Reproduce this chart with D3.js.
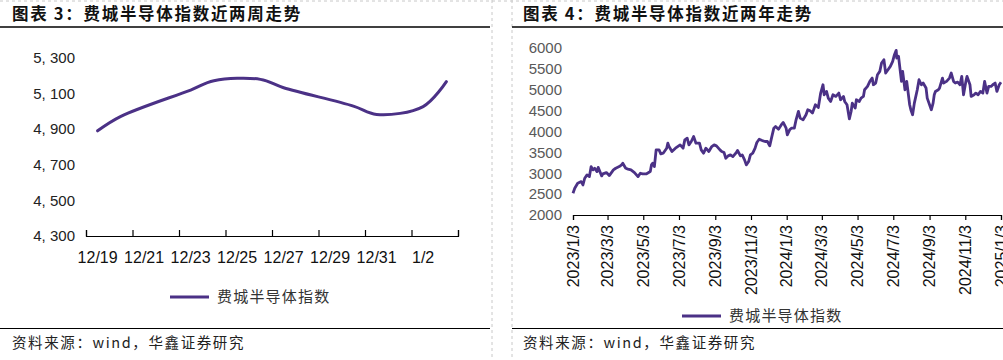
<!DOCTYPE html>
<html lang="zh">
<head>
<meta charset="utf-8">
<title>费城半导体指数</title>
<script src="https://d3js.org/d3.v7.min.js"></script>
<style>
body { margin: 0; background: #fff; }
svg { display: block; }
.num { font-family: "Liberation Sans", Arial, sans-serif; }
.cjk { font-family: "Noto Sans CJK SC", sans-serif; }
</style>
</head>
<body>
<svg id="paper" width="1003" height="360"></svg>
<script>
// 近两周（日度）
var weekDates = ["2024-12-19", "2024-12-20", "2024-12-23", "2024-12-24", "2024-12-26",
                 "2024-12-27", "2024-12-30", "2024-12-31", "2025-01-02", "2025-01-03"];
var weekValues = [4891, 4972, 5120, 5172, 5180, 5133, 5030, 4983, 5027, 5167];
var weekLabels = ["12/19", "12/21", "12/23", "12/25", "12/27", "12/29", "12/31", "1/2"];
var weekYTicks = [4300, 4500, 4700, 4900, 5100, 5300];

// 近两年
var yearDates = [
  "2023-01-03","2023-01-06","2023-01-11","2023-01-17","2023-01-20","2023-01-23","2023-01-27","2023-01-31",
  "2023-02-03","2023-02-06","2023-02-09","2023-02-13","2023-02-15","2023-02-21","2023-02-23","2023-03-01",
  "2023-03-06","2023-03-13","2023-03-17","2023-03-23","2023-03-27","2023-03-29","2023-04-03","2023-04-07",
  "2023-04-12","2023-04-18","2023-04-24","2023-04-28","2023-05-02","2023-05-08","2023-05-15","2023-05-17",
  "2023-05-19","2023-05-22","2023-05-25","2023-05-30","2023-06-02","2023-06-06","2023-06-12","2023-06-14",
  "2023-06-16","2023-06-21","2023-06-27","2023-07-05","2023-07-10","2023-07-13","2023-07-17","2023-07-20",
  "2023-07-24","2023-07-28","2023-08-01","2023-08-07","2023-08-10","2023-08-14","2023-08-18","2023-08-23",
  "2023-08-28","2023-09-01","2023-09-05","2023-09-11","2023-09-14","2023-09-18","2023-09-21","2023-09-25",
  "2023-09-29","2023-10-03","2023-10-09","2023-10-11","2023-10-16","2023-10-19","2023-10-23","2023-10-26",
  "2023-10-30","2023-11-02","2023-11-06","2023-11-10","2023-11-13","2023-11-17","2023-11-22","2023-11-27",
  "2023-12-01","2023-12-05","2023-12-08","2023-12-12","2023-12-15","2023-12-20","2023-12-26","2023-12-28",
  "2024-01-02","2024-01-04","2024-01-08","2024-01-11","2024-01-16","2024-01-19","2024-01-23","2024-01-26",
  "2024-01-31","2024-02-05","2024-02-08","2024-02-12","2024-02-16","2024-02-21","2024-02-26","2024-03-01",
  "2024-03-05","2024-03-07","2024-03-11","2024-03-14","2024-03-18","2024-03-22","2024-03-27","2024-04-01",
  "2024-04-04","2024-04-09","2024-04-11","2024-04-15","2024-04-19","2024-04-22","2024-04-24","2024-04-29",
  "2024-05-01","2024-05-06","2024-05-09","2024-05-13","2024-05-15","2024-05-20","2024-05-24","2024-05-28",
  "2024-05-30","2024-06-03","2024-06-06","2024-06-10","2024-06-13","2024-06-17","2024-06-20","2024-06-24",
  "2024-06-28","2024-07-02","2024-07-05","2024-07-08","2024-07-09","2024-07-12","2024-07-15","2024-07-17",
  "2024-07-19","2024-07-23","2024-07-26","2024-07-31","2024-08-02","2024-08-05","2024-08-08","2024-08-13",
  "2024-08-16","2024-08-20","2024-08-23","2024-08-28","2024-08-30","2024-09-06","2024-09-09","2024-09-11",
  "2024-09-13","2024-09-18","2024-09-20","2024-09-25","2024-09-27","2024-10-02","2024-10-07","2024-10-10",
  "2024-10-14","2024-10-17","2024-10-21","2024-10-25","2024-10-28","2024-10-31","2024-11-04","2024-11-06",
  "2024-11-11","2024-11-13","2024-11-18","2024-11-21","2024-11-25","2024-11-29","2024-12-03","2024-12-06",
  "2024-12-10","2024-12-13","2024-12-17","2024-12-20","2024-12-24","2024-12-27","2024-12-31","2025-01-03"
];
var yearValues = [
  2520,2640,2760,2800,2720,2880,2960,2920,
  3160,3080,3120,3040,3140,2936,2984,3016,
  2944,3080,3120,3160,3200,3240,3120,3100,
  3080,3016,2920,3000,2984,2984,3040,3200,
  3240,3160,3560,3560,3464,3480,3600,3720,
  3640,3520,3600,3680,3600,3800,3840,3680,
  3760,3880,3720,3720,3560,3480,3600,3520,
  3640,3680,3656,3560,3520,3496,3360,3416,
  3440,3400,3496,3544,3416,3440,3320,3200,
  3280,3440,3480,3600,3736,3816,3784,3760,
  3760,3656,3840,4080,4120,4056,4184,4216,
  4080,3920,4040,4080,4080,4280,4480,4320,
  4280,4400,4520,4496,4440,4640,4576,4920,
  5120,4880,4960,4800,4720,4880,4840,4920,
  4760,4840,4720,4640,4304,4480,4680,4560,
  4760,4720,4800,4840,5000,5080,5200,5280,
  5120,5160,5360,5440,5640,5720,5400,5480,
  5560,5680,5840,5944,5760,5800,5440,5200,
  5440,5000,5200,4640,4520,4400,4680,5000,
  5240,5120,5160,5040,4800,4520,4680,4880,
  4960,5000,5040,5280,5160,5200,5280,5400,
  5200,5160,5184,5120,5320,4880,5200,5320,
  5120,4840,4880,4920,4880,4960,4920,5200,
  4920,5080,5080,5120,5160,4960,5120,5180
];
var yearTicks = ["2023-01-03","2023-03-03","2023-05-03","2023-07-03","2023-09-03","2023-11-03",
                 "2024-01-03","2024-03-03","2024-05-03","2024-07-03","2024-09-03","2024-11-03","2025-01-03"];
var yearYTicks = [2000, 2500, 3000, 3500, 4000, 4500, 5000, 5500, 6000];

var seriesName = "费城半导体指数";
var lineColor = "#4b3186";

var parse = d3.timeParse("%Y-%m-%d");
var svg = d3.select("#paper");

// 页面框线
var frame = svg.append("g");
frame.append("line").attr("x1", 0).attr("x2", 1003).attr("y1", 1).attr("y2", 1)
  .attr("stroke", "#c8c8c8").attr("stroke-dasharray", "3,3");
[492, 512].forEach(function (x) {
  frame.append("line").attr("x1", x).attr("x2", x).attr("y1", 0).attr("y2", 360)
    .attr("stroke", "#c8c8c8").attr("stroke-dasharray", "3,3");
});
[[0, 490], [512, 1003]].forEach(function (r) {
  frame.append("line").attr("x1", r[0]).attr("x2", r[1]).attr("y1", 27).attr("y2", 27)
    .attr("stroke", "#000").attr("stroke-width", 1.5);
  frame.append("line").attr("x1", r[0]).attr("x2", r[1]).attr("y1", 328.5).attr("y2", 328.5)
    .attr("stroke", "#000").attr("stroke-width", 1.2);
});

function title(x, txt) {
  svg.append("text").attr("class", "cjk").attr("x", x).attr("y", 20)
    .attr("font-size", 16.5).attr("font-weight", "bold").attr("letter-spacing", 1.7)
    .attr("fill", "#111").text(txt);
}
function source(x) {
  svg.append("text").attr("class", "cjk").attr("x", x).attr("y", 348)
    .attr("font-size", 14.5).attr("letter-spacing", 1.6).attr("fill", "#222")
    .text("资料来源：wind，华鑫证券研究");
}
function legend(x, y) {
  svg.append("line").attr("x1", x).attr("x2", x + 39).attr("y1", y).attr("y2", y)
    .attr("stroke", lineColor).attr("stroke-width", 3);
  svg.append("text").attr("class", "cjk").attr("x", x + 47).attr("y", y).attr("dy", "0.36em")
    .attr("font-size", 15).attr("letter-spacing", 1.2).attr("fill", "#333").text(seriesName);
}

title(12, "图表 3：费城半导体指数近两周走势");
title(523, "图表 4：费城半导体指数近两年走势");
source(12);
source(523);

// ---------- 图表3 ----------
(function () {
  var x0 = d3.timeHour.offset(parse("2024-12-18"), 12),
      x1 = d3.timeHour.offset(parse("2025-01-03"), 12);
  var x = d3.scaleTime().domain([x0, x1]).range([86, 458]);
  var y = d3.scaleLinear().domain([4300, 5300]).range([236, 58]);
  var g = svg.append("g");

  var tickDates = d3.range(0, 9).map(function (i) { return d3.timeDay.offset(x0, i * 2); });
  var ax = g.append("g").attr("transform", "translate(0,236)")
    .call(d3.axisBottom(x).tickValues(tickDates).tickSize(-6).tickFormat(""));
  ax.select(".domain").attr("stroke", "#000").attr("stroke-width", 1.2);
  ax.selectAll(".tick line").attr("stroke", "#000").attr("stroke-width", 1.2);

  var labDates = weekLabels.map(function (s) {
    var p = s.split("/");
    return new Date(+p[0] === 12 ? 2024 : 2025, +p[0] - 1, +p[1]);
  });
  g.selectAll(".xl").data(labDates).enter().append("text")
    .attr("class", "num").attr("x", function (d) { return x(d); }).attr("y", 257)
    .attr("dy", "0.35em").attr("text-anchor", "middle").attr("font-size", 16).attr("fill", "#111")
    .text(function (d, i) { return weekLabels[i]; });

  var fmt = d3.format(",");
  g.selectAll(".yl").data(weekYTicks).enter().append("text")
    .attr("class", "num").attr("x", 75).attr("y", function (d) { return y(d); })
    .attr("dy", "0.35em").attr("text-anchor", "end").attr("font-size", 15).attr("fill", "#222")
    .text(function (d) { return fmt(d).replace(",", ", "); });

  var line = d3.line().curve(d3.curveCatmullRom)
    .x(function (d, i) { return x(parse(weekDates[i])); })
    .y(function (d) { return y(d); });
  g.append("path").datum(weekValues).attr("d", line)
    .attr("fill", "none").attr("stroke", lineColor).attr("stroke-width", 3)
    .attr("stroke-linecap", "round").attr("stroke-linejoin", "round");

  legend(170, 297);
})();

// ---------- 图表4 ----------
(function () {
  var x = d3.scaleTime().domain([parse("2023-01-03"), parse("2025-01-03")]).range([573, 1001]);
  var y = d3.scaleLinear().domain([2000, 6000]).range([215, 48]);
  var g = svg.append("g");

  var ax = g.append("g").attr("transform", "translate(0,215)")
    .call(d3.axisBottom(x).tickValues(yearTicks.map(parse)).tickSize(5).tickFormat(""));
  ax.select(".domain").attr("stroke", "#000").attr("stroke-width", 1.2);
  ax.selectAll(".tick line").attr("stroke", "#000").attr("stroke-width", 1.2);

  var fmt = d3.timeFormat("%Y/%-m/%-d");
  g.selectAll(".xl").data(yearTicks.map(parse)).enter().append("text")
    .attr("class", "num").attr("font-size", 16).attr("fill", "#111")
    .attr("text-anchor", "end")
    .attr("transform", function (d) { return "translate(" + x(d) + ",225) rotate(-90)"; })
    .attr("dy", "0.35em")
    .text(function (d) { return fmt(d); });

  g.selectAll(".yl").data(yearYTicks).enter().append("text")
    .attr("class", "num").attr("x", 562).attr("y", function (d) { return y(d); })
    .attr("dy", "0.35em").attr("text-anchor", "end").attr("font-size", 15).attr("fill", "#595959")
    .text(function (d) { return d; });

  var line = d3.line()
    .x(function (d, i) { return x(parse(yearDates[i])); })
    .y(function (d) { return y(d); });
  g.append("path").datum(yearValues).attr("d", line)
    .attr("fill", "none").attr("stroke", lineColor).attr("stroke-width", 2.8)
    .attr("stroke-linejoin", "round");

  legend(682, 316);
})();
</script>
</body>
</html>
